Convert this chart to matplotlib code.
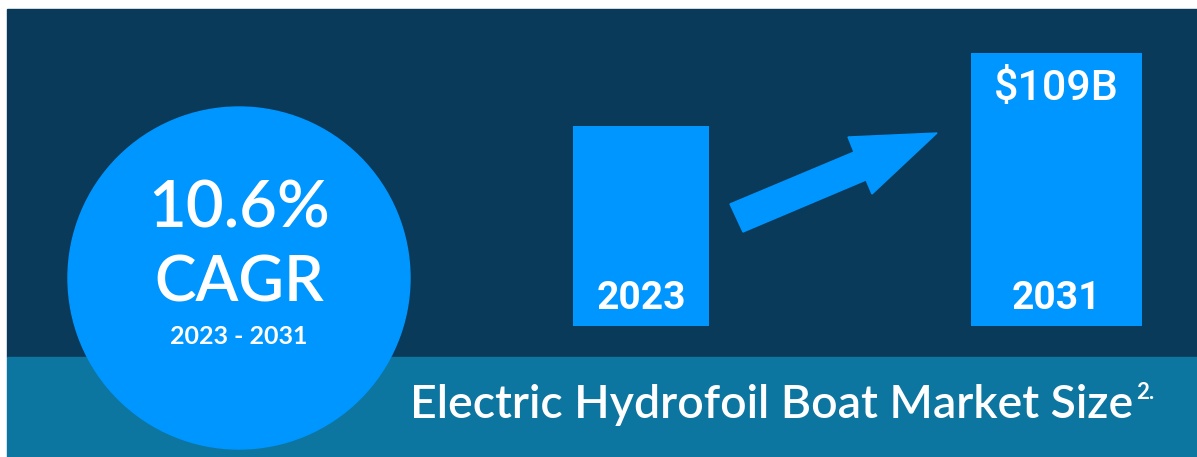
import matplotlib.pyplot as plt
from matplotlib.patches import Rectangle, Circle, Polygon

# data
years = ['2023', '2031']
bar_heights = [200, 273]          # relative bar heights (px units of the slide)
value_labels = ['', '$109B']
cagr = '10.6%'
cagr_span = '2023 - 2031'
title = 'Electric Hydrofoil Boat Market Size'
footnote = '2.'

navy = '#0A3A5A'
blue = '#0096FF'
teal = '#0C76A0'

W, H = 1197, 457
fig = plt.figure(figsize=(W / 100, H / 100), dpi=100)
ax = fig.add_axes([0, 0, 1, 1])
ax.set_xlim(0, W)
ax.set_ylim(H, 0)
ax.axis('off')

# background panels
ax.add_patch(Rectangle((7, 9), W - 7, 348, color=navy, zorder=0))
ax.add_patch(Rectangle((7, 357), W - 7, H - 357, color=teal, zorder=0))

# CAGR circle
ax.add_patch(Circle((239, 278), 171, color=blue, zorder=2))
ax.text(239, 228, cagr, color='white', fontsize=47, family='Lato',
        fontweight=600, ha='center', va='baseline', zorder=3)
ax.text(239, 302, 'CAGR', color='white', fontsize=45, family='Lato',
        fontweight=600, ha='center', va='baseline', zorder=3)
ax.text(239, 344, cagr_span, color='white', fontsize=18, family='Lato',
        fontweight='bold', ha='center', va='baseline', zorder=3)

# bars
centers = [641, 1056]
widths = [136, 171]
base = 326
ax.bar(centers, [-h for h in bar_heights], width=widths, bottom=base,
       color=blue, zorder=2)
for c, y, h, v in zip(centers, years, bar_heights, value_labels):
    ax.text(c, base - 17, y, color='white', fontsize=28, fontweight='bold',
            family='Roboto', ha='center', va='baseline', zorder=3)
    if v:
        ax.text(c, base - h + 47, v, color='white', fontsize=31,
                fontweight=500, family='Roboto',
                ha='center', va='baseline', zorder=3)

# growth arrow
arrow = [(730, 204), (854, 152), (848, 137), (937, 133),
         (872, 194), (866, 180), (743, 232)]
ax.add_patch(Polygon(arrow, closed=True, color=blue, zorder=2))

# title, sized to span the same width as in the slide
t = ax.text(410, 418, title, color='white', fontsize=29, family='Lato',
            fontweight=600, ha='left', va='baseline', zorder=3)
r = fig.canvas.get_renderer()
wpx = t.get_window_extent(r).width
t.set_fontsize(29 * 723 / wpx)
bb = t.get_window_extent(r)
x_end = ax.transData.inverted().transform((bb.x1, 0))[0]
ax.text(x_end + 3, 399, footnote, color='white', fontsize=16, family='Lato',
        fontweight='bold', ha='left', va='baseline', zorder=3)

fig.savefig('out.png', dpi=100)
